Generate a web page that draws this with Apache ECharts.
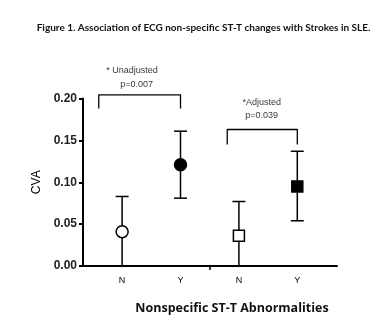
<!DOCTYPE html>
<html>
<head>
<meta charset="utf-8">
<script src="https://cdn.jsdelivr.net/npm/echarts@6/dist/echarts.min.js"></script>
<style>
  html, body { margin: 0; padding: 0; background: #fff; }
  #chart { width: 384px; height: 323px; }
</style>
</head>
<body>
<div id="chart"></div>
<script>
// Groups along the x axis: unadjusted N/Y, then adjusted N/Y
var categories = ['N', 'Y', 'N', 'Y'];
var positions = [1, 2, 3, 4];
// CVA proportion with error-bar bounds
var means = [0.041, 0.121, 0.036, 0.095];
var lower = [0.000, 0.081, 0.000, 0.054];
var upper = [0.083, 0.161, 0.077, 0.137];
var symbols = ['circle', 'circle', 'rect', 'rect'];
var filled = [false, true, false, true];

// Significance brackets: [xLeft, xRight, yTop, yFoot]
var brackets = [
  [0.6, 2, 0.2044, 0.188],
  [2.8, 4, 0.163, 0.145]
];
// Bracket annotations: [x, y, text]
var notes = [
  [1.17, 0.233, '* Unadjusted'],
  [1.25, 0.217, 'p=0.007'],
  [3.39, 0.195, '*Adjusted'],
  [3.39, 0.180, 'p=0.039']
];

var chart = echarts.init(document.getElementById('chart'));

var errData = positions.map(function (x, i) { return [x, lower[i], upper[i]]; });
var pointData = positions.map(function (x, i) {
  return {
    value: [x, means[i]],
    symbol: symbols[i],
    symbolSize: symbols[i] === 'circle' ? 12 : 11,
    itemStyle: { color: filled[i] ? '#000' : '#fff', borderColor: '#000', borderWidth: 1.5, opacity: 1 }
  };
});

var bracketSeries = brackets.map(function (b) {
  return {
    type: 'line',
    clip: false,
    silent: true,
    symbol: 'none',
    lineStyle: { color: '#000', width: 1.3 },
    data: [[b[0], b[3]], [b[0], b[2]], [b[1], b[2]], [b[1], b[3]]],
    z: 3
  };
});

chart.setOption({
  animation: false,
  title: [
    {
      text: 'Figure 1. Association of ECG non-specific ST-T changes with Strokes in SLE.',
      left: 198.5, top: 18, textAlign: 'center',
      textStyle: { fontFamily: 'Lato', fontWeight: 'bold', fontSize: 10, color: '#111' }
    },
    {
      text: 'Nonspecific ST-T Abnormalities',
      left: 227, top: 297, textAlign: 'center',
      textStyle: { fontFamily: 'Open Sans', fontWeight: 'bold', fontSize: 12.5, color: '#111' }
    }
  ],
  grid: { left: 83, right: 47, top: 98.5, bottom: 57 },
  xAxis: {
    type: 'value',
    min: 0.33, max: 4.68,
    splitLine: { show: false },
    axisLine: { lineStyle: { color: '#000', width: 2 } },
    axisTick: { show: true, customValues: [2.5], length: 4, inside: false, lineStyle: { color: '#000', width: 1.5 } },
    axisLabel: {
      customValues: positions,
      formatter: function (v) { return categories[Math.round(v) - 1]; },
      fontFamily: 'Arial', fontSize: 9, color: '#000', margin: 10
    }
  },
  yAxis: {
    type: 'value',
    min: 0, max: 0.2, interval: 0.05,
    name: 'CVA',
    nameLocation: 'middle',
    nameRotate: 90,
    nameGap: 35,
    nameTextStyle: { fontFamily: 'Arial', fontSize: 12, color: '#000' },
    splitLine: { show: false },
    axisLine: { show: true, lineStyle: { color: '#000', width: 2 } },
    axisTick: { show: true, length: 4, lineStyle: { color: '#000', width: 2 } },
    axisLabel: {
      formatter: function (v) { return v.toFixed(2); },
      fontFamily: 'Arial', fontWeight: 'bold', fontSize: 12, color: '#222', margin: 6
    }
  },
  series: [
    {
      type: 'custom',
      silent: true,
      z: 2,
      data: errData,
      renderItem: function (params, api) {
        var x = api.value(0);
        var lo = api.coord([x, api.value(1)]);
        var hi = api.coord([x, api.value(2)]);
        var cap = 6.5;
        var style = { stroke: '#000', lineWidth: 1.5, fill: null };
        var children = [
          { type: 'line', shape: { x1: lo[0], y1: lo[1], x2: hi[0], y2: hi[1] }, style: style },
          { type: 'line', shape: { x1: hi[0] - cap, y1: hi[1], x2: hi[0] + cap, y2: hi[1] }, style: style }
        ];
        if (api.value(1) > 0) {
          children.push({ type: 'line', shape: { x1: lo[0] - cap, y1: lo[1], x2: lo[0] + cap, y2: lo[1] }, style: style });
        }
        return { type: 'group', children: children };
      }
    },
    {
      type: 'scatter',
      silent: true,
      z: 4,
      data: pointData
    }
  ].concat(bracketSeries).concat([
    {
      type: 'scatter',
      silent: true,
      clip: false,
      symbolSize: 0,
      z: 5,
      data: notes.map(function (n) { return { value: [n[0], n[1]], name: n[2] }; }),
      label: {
        show: true,
        position: 'inside',
        formatter: function (p) { return p.name; },
        fontFamily: 'Arial', fontSize: 9, color: '#000'
      }
    }
  ])
});
</script>
</body>
</html>
